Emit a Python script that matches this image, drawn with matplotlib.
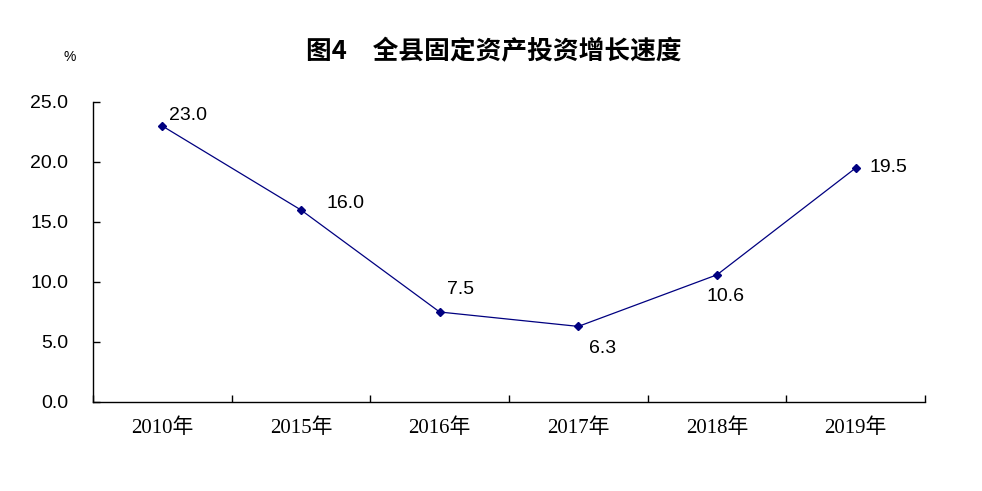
import matplotlib
matplotlib.use("Agg")
import matplotlib.pyplot as plt
from matplotlib.ticker import FixedLocator, NullFormatter, FormatStrFormatter

categories = ["2010年", "2015年", "2016年", "2017年", "2018年", "2019年"]
values = [23.0, 16.0, 7.5, 6.3, 10.6, 19.5]
label_offsets = [(7, 11), (26, 7), (7, 22), (11, -22), (-11, -22), (14, 0)]
title = "图4　全县固定资产投资增长速度"

plt.rcParams['font.family'] = ['Liberation Sans', 'Noto Sans CJK SC', 'DejaVu Sans']
plt.rcParams['xtick.direction'] = 'in'
plt.rcParams['ytick.direction'] = 'in'

fig = plt.figure(figsize=(9.82, 4.91), dpi=100)
ax = fig.add_axes([93/982, 1-402/491, (925-93)/982, 300/491])

x = list(range(len(categories)))
ax.plot(x, values, color='#000080', lw=0.9, marker='D', markersize=4.5,
        markerfacecolor='#000080', markeredgecolor='#000080')

for xi, v, (dx, dy) in zip(x, values, label_offsets):
    ax.annotate(f"{v:.1f}", (xi, v), xytext=(dx*0.72, dy*0.72), textcoords='offset points',
                ha='left', va='center', fontsize=14, color='black',
                family=['Liberation Sans', 'DejaVu Sans'])

ax.set_xlim(-0.5, len(categories) - 0.5)
ax.set_ylim(0, 25)
ax.set_yticks([0, 5, 10, 15, 20, 25])
ax.yaxis.set_major_formatter(FormatStrFormatter('%.1f'))
ax.tick_params(axis='y', direction='in', length=5, width=1, pad=18, labelsize=14)

ax.xaxis.set_major_locator(FixedLocator([i - 0.5 for i in range(len(categories) + 1)]))
ax.xaxis.set_major_formatter(NullFormatter())
ax.xaxis.set_minor_locator(FixedLocator(x))
ax.set_xticklabels(categories, minor=True)
ax.tick_params(axis='x', which='major', direction='in', length=5, width=1)
ax.tick_params(axis='x', which='minor', direction='in', length=0, pad=12, labelsize=15)
for lab in ax.get_xticklabels(minor=True):
    lab.set_family(['Liberation Serif', 'Noto Sans CJK SC'])

for s in ['top', 'right']:
    ax.spines[s].set_visible(False)
for s in ['left', 'bottom']:
    ax.spines[s].set_linewidth(1)
    ax.spines[s].set_color('black')

fig.text(494/982, 1-52/491, title, ha='center', va='center', fontsize=18.5,
         fontweight='bold', family=['Noto Sans CJK SC', 'DejaVu Sans'])
fig.text(70/982, 1-57/491, "%", ha='center', va='center', fontsize=10,
         family=['Liberation Sans'])

fig.savefig("out.png", dpi=100, facecolor='white')
